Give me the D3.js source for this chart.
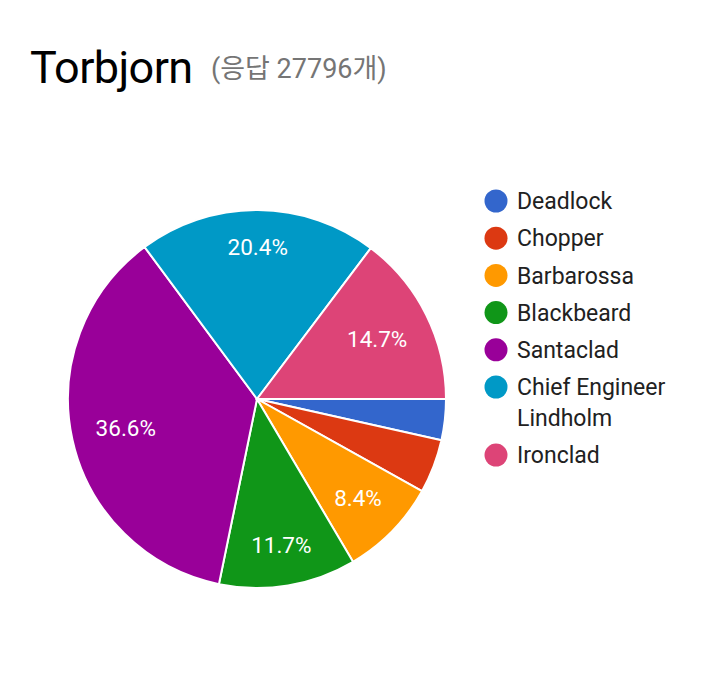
<!DOCTYPE html>
<html><head><meta charset="utf-8">
<script src="https://cdn.jsdelivr.net/npm/d3@7"></script>
<style>body{margin:0;background:#fff;} svg{display:block;}</style>
</head><body>
<svg id="c" width="720" height="694"></svg>
<script>
const categories = ["Deadlock","Chopper","Barbarossa","Blackbeard","Santaclad","Chief Engineer Lindholm","Ironclad"];
const values = [3.5,4.6,8.4,11.7,36.6,20.4,14.7];
const colors = ["#3366cc","#dc3912","#ff9900","#109618","#990099","#0099c6","#dd4477"];
const legendLines = [["Deadlock"],["Chopper"],["Barbarossa"],["Blackbeard"],["Santaclad"],["Chief Engineer","Lindholm"],["Ironclad"]];
const title = "Torbjorn";
const subtitle = "(응답 27796개)";

const svg = d3.select("#c");
const font = "Roboto, 'Noto Sans CJK KR', sans-serif";
svg.append("text").attr("x",30).attr("y",83).attr("font-family",font).attr("font-size",45).attr("letter-spacing",-0.6).attr("fill","#000").text(title);
svg.append("text").attr("x",211).attr("y",78).attr("font-family",font).attr("font-size",27).attr("fill","#757575").text(subtitle);

const cx=257, cy=399, r=189;
const data = categories.map((c,i)=>({c,v:values[i],col:colors[i]}));
const pie = d3.pie().value(d=>d.v).sort(null).startAngle(Math.PI/2).endAngle(Math.PI/2+2*Math.PI);
const arcs = pie(data);
const arc = d3.arc().innerRadius(0).outerRadius(r);
const g = svg.append("g").attr("transform",`translate(${cx},${cy})`);
g.selectAll("path").data(arcs).join("path").attr("d",arc).attr("fill",d=>d.data.col).attr("stroke","#fff").attr("stroke-width",2);

const labelFs = 22.5;
const R = r*0.88;
g.selectAll("text").data(arcs.filter(d=>d.data.v>=5)).join("text")
 .attr("text-anchor","middle").attr("dy","0.36em")
 .attr("font-family",font).attr("font-size",labelFs).attr("fill","#fff")
 .text(d=>d.data.v.toFixed(1)+"%")
 .each(function(d){
   const w = this.getComputedTextLength();
   const hw = w/2, hh = labelFs*0.5;
   const a = (d.startAngle+d.endAngle)/2;
   const ux = Math.sin(a), uy = -Math.cos(a);
   const c = [Math.sign(ux)*hw, Math.sign(uy)*hh];
   const uc = ux*c[0]+uy*c[1];
   const cc = c[0]*c[0]+c[1]*c[1];
   const dist = -uc + Math.sqrt(uc*uc - (cc - R*R));
   d3.select(this).attr("transform",`translate(${dist*ux},${dist*uy})`);
 });

const lg = svg.append("g");
let row=0;
legendLines.forEach((lines,i)=>{
  const y = 201 + row*37.2;
  lg.append("circle").attr("cx",496).attr("cy",y).attr("r",11.5).attr("fill",colors[i]);
  lines.forEach((t,j)=>{
    lg.append("text").attr("x",517).attr("y",y+j*31).attr("dy","0.36em").attr("font-family",font).attr("font-size",23).attr("fill","#212121").text(t);
  });
  row += lines.length>1 ? 1.83 : 1;
});
</script>
</body></html>
